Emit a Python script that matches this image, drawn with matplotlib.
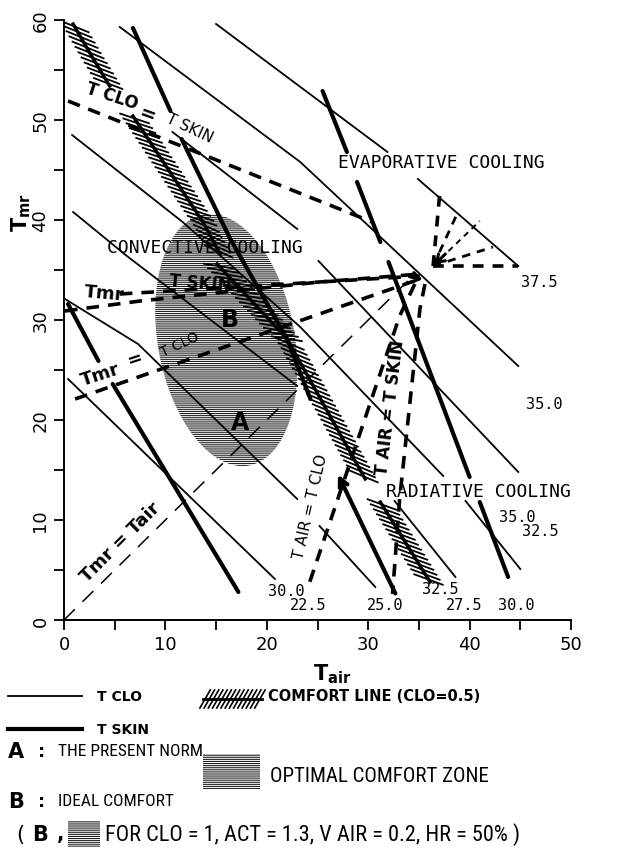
import numpy as np
import matplotlib
matplotlib.use("Agg")
import matplotlib.pyplot as plt
import matplotlib.patheffects as pe
from matplotlib.patches import Ellipse, Rectangle
from matplotlib.lines import Line2D

W, H = 643, 854

# T CLO lines (thin), each segment given as Tair / Tmr points
tclo_air = [[15.0, 31.9], [34.9, 44.8],
            [5.5, 23.3, 44.8],
            [10.7, 23.0], [25.1, 44.8],
            [0.8, 11.7, 23.3, 37.4], [39.6, 45.0],
            [0.9, 6.2, 23.0],
            [0.1, 7.3, 23.0],
            [0.4, 20.8],
            [25.2, 30.7],
            [32.6, 38.6]]
tclo_mr = [[59.6, 46.8], [44.1, 35.4],
           [59.3, 45.8, 25.4],
           [48.8, 39.1], [35.9, 14.8],
           [48.5, 39.8, 29.3, 14.4], [11.9, 5.1],
           [40.8, 36.4, 23.4],
           [32.1, 27.6, 12.1],
           [24.1, 4.1],
           [9.4, 3.3],
           [11.9, 4.3]]

# T SKIN lines (thick)
tskin_air = [[6.8, 10.5],
             [11.6, 16.4, 22.0, 24.3],
             [25.5, 27.9], [28.9, 31.2],
             [32.0, 40.0],
             [41.0, 43.8],
             [0.4, 3.4],
             [4.8, 17.2]]
tskin_mr = [[59.2, 50.9],
            [48.1, 38.1, 28.1, 22.1],
            [52.9, 46.8], [43.8, 37.8],
            [35.8, 14.3],
            [11.8, 4.3],
            [31.6, 25.9],
            [23.6, 2.8]]
# T SKIN line drawn as an arrow (from, to)
arrow_skin_air = [32.8, 26.9]
arrow_skin_mr = [2.4, 14.8]

# comfort line (CLO = 0.5), hatched pieces
comfort_air = [[0.9, 2.6, 4.5],
               [6.8, 13.7, 15.4],
               [15.1, 22.0, 29.7],
               [31.2, 36.1]]
comfort_mr = [[59.6, 56.6, 53.4],
              [50.4, 39.8, 36.6],
              [35.6, 28.1, 14.1],
              [11.8, 3.8]]

# dashed relation lines
tclo_eq_tskin_air = [0.4, 30.4]
tclo_eq_tskin_mr = [51.9, 39.8]
tmr_eq_tskin_air = [[0.1, 7.5, 25.2, 35.1], [5.5, 25.2, 35.1]]
tmr_eq_tskin_mr = [[30.9, 31.9, 33.8, 34.4], [32.6, 33.8, 34.6]]
tmr_eq_tclo_air = [1.1, 35.1]
tmr_eq_tclo_mr = [22.1, 34.1]
tair_eq_tskin_air = [35.6, 35.1, 33.1, 32.4]
tair_eq_tskin_mr = [33.6, 31.1, 12.1, 2.6]
tair_eq_tclo_air = [34.6, 33.1, 24.0]
tair_eq_tclo_mr = [33.6, 30.4, 3.1]
tmr_eq_tair_air = [0.0, 34.5]
tmr_eq_tair_mr = [0.0, 34.5]

# evaporative fan
fan_center = (36.4, 35.4)
fan_air = [37.1, 38.9, 41.0, 42.3, 44.8]
fan_mr = [43.1, 40.9, 39.9, 37.3, 35.4]
fan_lw = [2.6, 2.0, 1.4, 2.0, 2.6]

# optimal comfort zone (ellipse)
zone_center = (16.0, 28.0)
zone_width = 13.5
zone_height = 25.5
zone_angle = 10

# isotherm labels
iso_labels = ["37.5", "35.0", "35.0", "32.5", "32.5", "27.5", "30.0", "25.0", "22.5", "30.0"]
iso_label_air = [46.9, 47.4, 44.7, 47.0, 37.1, 39.5, 44.6, 31.7, 24.1, 21.9]
iso_label_mr = [33.8, 21.6, 10.3, 8.9, 3.1, 1.5, 1.5, 1.5, 1.5, 2.9]

fig = plt.figure(figsize=(W / 100, H / 100), dpi=100)
ax = fig.add_axes([64 / W, 1 - 621 / H, 507 / W, 600 / H])
ax.set_xlim(0, 50)
ax.set_ylim(0, 60)

plt.rcParams['hatch.linewidth'] = 0.8

zone = Ellipse(zone_center, zone_width, zone_height, angle=zone_angle,
               facecolor='white', edgecolor='#222222', linewidth=0,
               hatch='--------', zorder=1)
ax.add_patch(zone)

for xs, ys in zip(tclo_air, tclo_mr):
    ax.plot(xs, ys, color='k', lw=1.3, zorder=3)

for xs, ys in zip(tskin_air, tskin_mr):
    ax.plot(xs, ys, color='k', lw=3.0, zorder=3, solid_capstyle='round')

ax.annotate('', xy=(arrow_skin_air[1], arrow_skin_mr[1]),
            xytext=(arrow_skin_air[0], arrow_skin_mr[0]),
            arrowprops=dict(arrowstyle='->,head_length=0.6,head_width=0.3',
                            lw=3, color='k'), zorder=4)

hatch_fx = [pe.TickedStroke(spacing=4.2, angle=38, length=2.6, linewidth=1.3),
            pe.TickedStroke(spacing=4.2, angle=-142, length=2.6, linewidth=1.3),
            pe.Normal()]
for xs, ys in zip(comfort_air, comfort_mr):
    ax.plot(xs, ys, color='k', lw=2.4, zorder=4, path_effects=hatch_fx)

thick_dash = (0, (3.5, 2.5))
ax.plot(tclo_eq_tskin_air, tclo_eq_tskin_mr, color='k', lw=2.6, ls=thick_dash, zorder=4)
for xs, ys in zip(tmr_eq_tskin_air, tmr_eq_tskin_mr):
    ax.plot(xs, ys, color='k', lw=2.6, ls=thick_dash, zorder=4)
ax.plot(tmr_eq_tclo_air, tmr_eq_tclo_mr, color='k', lw=2.6, ls=thick_dash, zorder=4)
ax.plot(tair_eq_tskin_air, tair_eq_tskin_mr, color='k', lw=2.6, ls=thick_dash, zorder=4)
ax.plot(tair_eq_tclo_air, tair_eq_tclo_mr, color='k', lw=2.6, ls=thick_dash, zorder=4)
ax.plot(tmr_eq_tair_air, tmr_eq_tair_mr, color='k', lw=1.1, ls=(0, (10, 7)), zorder=4)

for fx, fy, lw in zip(fan_air, fan_mr, fan_lw):
    ax.plot([fan_center[0], fx], [fan_center[1], fy], color='k', lw=lw,
            ls=(0, (3, 2.5)), zorder=4)

ax.annotate('', xy=fan_center, xytext=(37.8, 36.8),
            arrowprops=dict(arrowstyle='->,head_length=0.5,head_width=0.35', lw=2.2, color='k'))
ax.annotate('', xy=(35.6, 34.0), xytext=(33.8, 34.4),
            arrowprops=dict(arrowstyle='->,head_length=0.5,head_width=0.35', lw=2.2, color='k'))

# region texts
mono = 'DejaVu Sans Mono'
ax.text(37.2, 45.8, 'EVAPORATIVE COOLING', family=mono, fontsize=13, ha='center', va='center', zorder=6)
ax.text(13.9, 37.3, 'CONVECTIVE COOLING', family=mono, fontsize=13, ha='center', va='center', zorder=6)
ax.text(40.9, 12.9, 'RADIATIVE COOLING', family=mono, fontsize=13, ha='center', va='center', zorder=6)

ax.text(4.7, 52.4, 'T CLO', fontsize=12, fontweight='bold', rotation=-18, ha='center', va='center')
ax.text(8.2, 50.6, '=', fontsize=14, fontweight='heavy', rotation=-20, ha='center', va='center')
ax.text(12.4, 49.3, 'T SKIN', fontsize=11, rotation=-25, ha='center', va='center')

ax.text(4.0, 32.7, 'Tmr', fontsize=13, fontweight='bold', rotation=-5, ha='center', va='center')
ax.text(13.4, 33.7, 'T SKIN', fontsize=12, fontweight='bold', rotation=-5, ha='center', va='center', zorder=6)
ax.text(3.6, 24.6, 'Tmr', fontsize=13, fontweight='bold', rotation=18, ha='center', va='center')
ax.text(7.0, 26.1, '=', fontsize=13, fontweight='bold', rotation=18, ha='center', va='center')
ax.text(11.4, 27.6, 'T CLO', fontsize=10, rotation=25, ha='center', va='center', zorder=6)
ax.text(5.6, 7.8, 'Tmr = Tair', fontsize=13, fontweight='bold', rotation=45, ha='center', va='center')
ax.text(24.3, 11.4, 'T AIR = T CLO', fontsize=11, rotation=77, ha='center', va='center')
ax.text(32.2, 21.3, 'T AIR = T SKIN', fontsize=12, fontweight='bold', rotation=83, ha='center', va='center')

ax.text(17.4, 19.8, 'A', fontsize=17, fontweight='heavy', ha='center', va='center', zorder=6)
ax.text(16.4, 30.1, 'B', fontsize=17, fontweight='heavy', ha='center', va='center', zorder=6)

for lab, lx, ly in zip(iso_labels, iso_label_air, iso_label_mr):
    ax.text(lx, ly, lab, family=mono, fontsize=11, ha='center', va='center', clip_on=False)

# axes styling
for side in ['top', 'right']:
    ax.spines[side].set_visible(False)
for side in ['left', 'bottom']:
    ax.spines[side].set_linewidth(1.4)
ax.set_xticks(np.arange(0, 51, 10))
ax.set_yticks(np.arange(0, 61, 10))
ax.set_xticks(np.arange(5, 50, 10), minor=True)
ax.set_yticks(np.arange(5, 60, 10), minor=True)
ax.tick_params(which='both', direction='out', length=7, width=1.3, labelsize=13)
for lab in ax.get_yticklabels():
    lab.set_rotation(90)
    lab.set_va('center')
ax.set_xlabel(r'$\mathbf{T_{air}}$', fontsize=15)
ax.xaxis.set_label_coords((332 - 64) / 507, (621 - 662) / 600)
ax.set_ylabel(r'$\mathbf{T_{mr}}$', fontsize=15)
ax.yaxis.set_label_coords((33 - 64) / 507, (621 - 213) / 600)


# legend below the chart, in pixel positions
def ftext(px, py, s, **kw):
    kw.setdefault('va', 'center')
    fig.text(px / W, 1 - py / H, s, **kw)


fig.add_artist(Line2D([8 / W, 82 / W], [1 - 697 / H] * 2, lw=1.3, color='k'))
ftext(97, 697, 'T CLO', fontsize=10, fontweight='bold')
fig.add_artist(Line2D([8 / W, 82 / W], [1 - 730 / H] * 2, lw=3, color='k'))
ftext(97, 730, 'T SKIN', fontsize=10, fontweight='bold')

fig.add_artist(Line2D([203 / W, 262 / W], [1 - 700 / H] * 2, lw=2, color='k',
                      path_effects=[pe.TickedStroke(spacing=3, angle=60, length=2.5, linewidth=1.2),
                                    pe.TickedStroke(spacing=3, angle=-120, length=2.5, linewidth=1.2),
                                    pe.Normal()]))
ftext(268, 697, 'COMFORT LINE (CLO=0.5)', fontsize=10.5, fontweight='bold')

narrow = ['Roboto Condensed', 'Liberation Sans Narrow', 'DejaVu Sans']
ftext(8, 752, 'A', fontsize=15, fontweight='heavy')
ftext(38, 752, ':', fontsize=13, fontweight='bold')
ftext(58, 752, 'THE PRESENT NORM', family=narrow, fontstretch='condensed', fontsize=12.5)
fig.add_artist(Rectangle((203 / W, 1 - 790 / H), 57 / W, 35 / H, transform=fig.transFigure,
                         facecolor='white', edgecolor='#222222', linewidth=0, hatch='--------'))
ftext(270, 777, 'OPTIMAL COMFORT ZONE', family=narrow, fontstretch='condensed', fontsize=15)
ftext(8, 802, 'B', fontsize=15, fontweight='heavy')
ftext(38, 802, ':', fontsize=13, fontweight='bold')
ftext(58, 802, 'IDEAL COMFORT', family=narrow, fontstretch='condensed', fontsize=12.5)

ftext(16, 835, '(', fontsize=15)
ftext(32, 835, 'B', fontsize=15, fontweight='heavy')
ftext(57, 835, ',', fontsize=14, fontweight='bold')
fig.add_artist(Rectangle((68 / W, 1 - 848 / H), 32 / W, 26 / H, transform=fig.transFigure,
                         facecolor='white', edgecolor='#222222', linewidth=0, hatch='--------'))
ftext(105, 835, 'FOR CLO = 1, ACT = 1.3, V AIR = 0.2, HR = 50% )', family=narrow,
      fontstretch='condensed', fontsize=16)

fig.savefig('out.png', dpi=100)
